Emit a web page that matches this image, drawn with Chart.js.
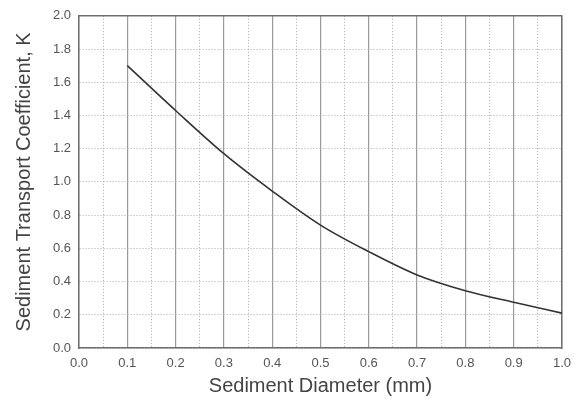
<!DOCTYPE html>
<html>
<head>
<meta charset="utf-8">
<script src="https://cdn.jsdelivr.net/npm/chart.js@4"></script>
<style>
  html, body { margin: 0; padding: 0; background: #fff; }
  #wrap { width: 579px; height: 401px; }
</style>
</head>
<body>
<div id="wrap"><canvas id="chart"></canvas></div>
<script>
// grain size (mm) vs transport coefficient K
const diameters = [0.1, 0.2, 0.3, 0.4, 0.5, 0.6, 0.7, 0.8, 0.9, 1.0];
const kValues = [1.70, 1.43, 1.17, 0.945, 0.74, 0.58, 0.44, 0.345, 0.275, 0.21];

const xRange = [0, 1];
const yRange = [0, 2];
const xLabelStep = 0.1;
const xMinorStep = 0.05;
const yLabelStep = 0.2;

const FONT = '"Liberation Sans", Arial, Helvetica, sans-serif';
const frameColor = '#6e6e6e';

const points = diameters.map((d, i) => ({ x: d, y: kValues[i] }));

// helper for axes that only draw a frame edge
const edgeAxis = (position, horizontal) => ({
  type: 'linear',
  position,
  min: horizontal ? xRange[0] : yRange[0],
  max: horizontal ? xRange[1] : yRange[1],
  ticks: { display: false },
  grid: { display: false, drawTicks: false },
  border: { display: true, color: frameColor, width: 1.5 },
  afterFit: (scale) => { if (horizontal) scale.height = 0; else scale.width = 0; }
});

new Chart(document.getElementById('chart'), {
  type: 'line',
  data: {
    datasets: [{
      data: points,
      borderColor: '#333',
      borderWidth: 1.6,
      pointRadius: 0,
      fill: false,
      cubicInterpolationMode: 'monotone'
    }]
  },
  options: {
    responsive: true,
    maintainAspectRatio: false,
    animation: false,
    layout: { padding: { top: 12, right: 17, left: 2, bottom: 3 } },
    plugins: { legend: { display: false }, tooltip: { enabled: false } },
    scales: {
      x: {
        type: 'linear',
        position: 'bottom',
        min: xRange[0],
        max: xRange[1],
        ticks: {
          stepSize: xLabelStep,
          padding: 8,
          color: '#555',
          font: { family: FONT, size: 13 },
          callback: (v) => v.toFixed(1)
        },
        grid: { color: '#9a9a9a', lineWidth: 1.2, drawTicks: false },
        border: { display: true, color: frameColor, width: 1.5 },
        title: {
          display: true,
          text: 'Sediment Diameter (mm)',
          color: '#444',
          font: { family: FONT, size: 20 },
          padding: { top: 0, bottom: 0 }
        },
        afterFit: (scale) => { scale.height = 50; }
      },
      xMinor: {
        type: 'linear',
        position: 'bottom',
        min: xRange[0],
        max: xRange[1],
        ticks: { display: false, stepSize: xMinorStep },
        grid: {
          drawTicks: false,
          lineWidth: 1,
          color: (ctx) => {
            const v = Math.round((ctx.tick ? ctx.tick.value : 0) * 100);
            return v % 10 === 0 ? 'rgba(0,0,0,0)' : '#a8a8a8';
          }
        },
        border: { display: false, dash: [1, 2] },
        afterFit: (scale) => { scale.height = 0; }
      },
      y: {
        type: 'linear',
        position: 'left',
        min: yRange[0],
        max: yRange[1],
        ticks: {
          stepSize: yLabelStep,
          padding: 8,
          color: '#555',
          font: { family: FONT, size: 13 },
          callback: (v) => v.toFixed(1)
        },
        grid: { color: '#a8a8a8', lineWidth: 1, drawTicks: false },
        border: { display: true, color: frameColor, width: 1.5, dash: [1, 2] },
        title: {
          display: true,
          text: 'Sediment Transport Coefficient, K',
          color: '#444',
          font: { family: FONT, size: 20 },
          padding: { top: 10, bottom: 0 }
        },
        afterFit: (scale) => { scale.width = 77; }
      },
      xTop: edgeAxis('top', true),
      yRight: edgeAxis('right', false)
    }
  }
});
</script>
</body>
</html>
